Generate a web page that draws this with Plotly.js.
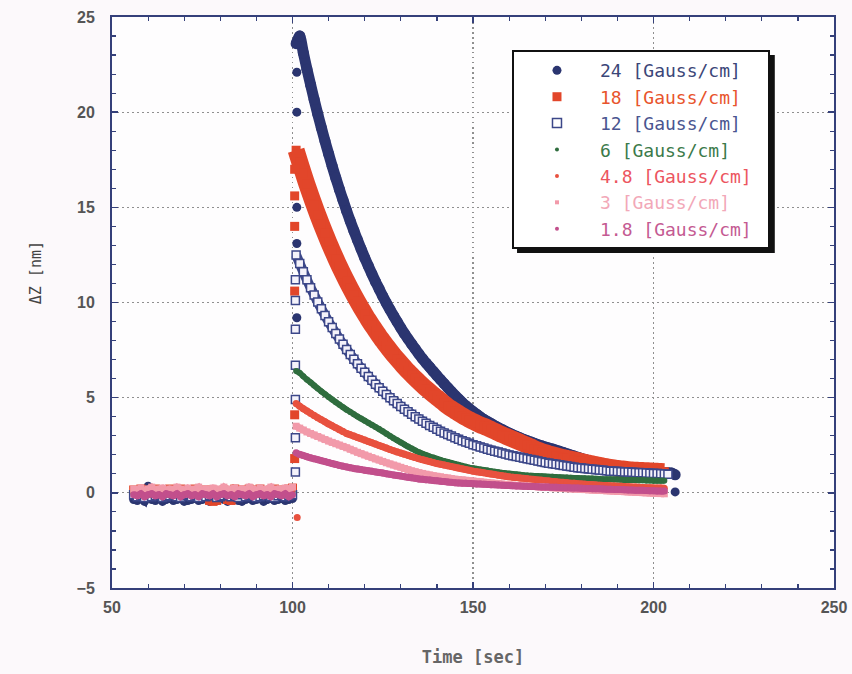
<!DOCTYPE html>
<html>
<head>
<meta charset="utf-8">
<script src="https://cdn.plot.ly/plotly-3.0.1.min.js"></script>
<style>html,body{margin:0;padding:0;background:#fcf9fb;}#chart{width:852px;height:674px;}</style>
</head>
<body>
<div id="chart"></div>
<script>
// ---- data (Time [sec] vs ΔZ [nm]) ----
const seriesNames = ["24 [Gauss/cm]", "18 [Gauss/cm]", "12 [Gauss/cm]", "6 [Gauss/cm]", "4.8 [Gauss/cm]", "3 [Gauss/cm]", "1.8 [Gauss/cm]"];
const baseStart = 56;   // first baseline sample time
const decayStart = 101; // first sample after field switched on
const sampleStep = 1;

const g24Base = [-0.35,-0.4,-0.3,-0.45,0.35,-0.35,-0.4,-0.3,-0.45,-0.35,-0.3,-0.4,-0.35,-0.3,-0.45,-0.4,-0.35,-0.3,-0.4,-0.35,-0.3,-0.45,-0.35,-0.4,-0.3,-0.35,-0.45,-0.3,-0.35,-0.4,-0.45,-0.35,-0.3,-0.4,-0.35,-0.3,-0.45,-0.35,-0.3,-0.4,-0.35,-0.3,-0.4,-0.35,-0.3];
const g18Base = [0.15,0.1,0.2,0.05,0.15,0.1,0.2,0.15,0.05,0.1,0.2,0.15,0.1,0.2,0.05,0.15,0.1,0.2,-0.1,0.1,0.15,-0.4,-0.45,-0.4,0.1,0.15,-0.35,-0.4,0.2,0.1,0.15,0.05,0.2,0.1,0.15,0.2,0.1,0.05,0.15,0.2,0.1,0.15,0.05,0.2,0.25];
const g12Base = [-0.1,-0.2,-0.15,-0.25,-0.1,-0.2,-0.15,-0.1,-0.25,-0.2,-0.15,-0.1,-0.2,-0.25,-0.15,-0.1,-0.2,-0.15,-0.25,-0.1,-0.2,-0.15,-0.1,-0.25,-0.2,-0.15,-0.1,-0.2,-0.15,-0.25,-0.1,-0.2,-0.15,-0.1,-0.25,-0.2,-0.15,-0.1,-0.2,-0.25,-0.15,-0.1,-0.2,-0.15,-0.1];
const g6Base = [-0.05,0.0,-0.1,0.05,-0.05,-0.1,0.0,0.05,-0.05,-0.1,0.0,-0.05,0.05,-0.1,0.0,-0.05,-0.1,0.05,0.0,-0.05,-0.1,0.0,0.05,-0.05,-0.1,0.0,-0.05,0.05,-0.1,0.0,-0.05,-0.1,0.05,0.0,-0.05,-0.1,0.0,0.05,-0.05,-0.1,0.0,-0.05,0.05,-0.1,0.0];
const g48Base = [0.1,0.05,0.15,0.0,0.1,0.2,0.05,0.1,0.15,0.0,0.1,0.05,0.2,0.1,0.0,0.15,0.05,0.1,0.2,0.0,0.1,0.05,0.15,0.1,0.0,0.2,0.05,0.1,0.15,0.0,0.1,0.05,0.2,0.1,0.0,0.15,0.05,0.1,0.2,0.0,0.1,0.05,0.15,0.1,0.2];
const g3Base = [0.2,0.15,0.25,0.1,0.2,0.3,0.15,0.2,0.25,0.1,0.2,0.15,0.3,0.2,0.1,0.25,0.15,0.2,0.3,0.1,0.2,0.15,0.25,0.2,0.1,0.3,0.15,0.2,0.25,0.1,0.2,0.15,0.3,0.2,0.1,0.25,0.15,0.2,0.3,0.1,0.2,0.15,0.25,0.2,0.3];
const g18mBase = [-0.1,-0.15,-0.05,-0.2,-0.1,-0.05,-0.15,-0.1,-0.2,-0.05,-0.1,-0.15,-0.05,-0.2,-0.1,-0.05,-0.15,-0.1,-0.2,-0.05,-0.1,-0.15,-0.05,-0.2,-0.1,-0.05,-0.15,-0.1,-0.2,-0.05,-0.1,-0.15,-0.05,-0.2,-0.1,-0.05,-0.15,-0.1,-0.2,-0.05,-0.1,-0.15,-0.05,-0.2,-0.1];

const g24Decay = [23.6,24.0,23.12,22.26,21.45,20.66,19.90,19.18,18.48,17.81,17.16,16.54,15.94,15.37,14.81,14.28,13.77,13.28,12.81,12.35,11.92,11.50,11.09,10.71,10.33,9.97,9.63,9.30,8.98,8.67,8.37,8.09,7.82,7.56,7.30,7.05,6.82,6.6,6.38,6.16,5.95,5.74,5.53,5.32,5.12,4.93,4.75,4.58,4.42,4.27,4.13,3.99,3.86,3.75,3.64,3.53,3.42,3.33,3.23,3.14,3.05,2.97,2.89,2.81,2.74,2.67,2.60,2.53,2.47,2.41,2.35,2.30,2.24,2.18,2.12,2.05,1.99,1.93,1.87,1.81,1.75,1.69,1.63,1.57,1.51,1.46,1.41,1.37,1.33,1.29,1.26,1.23,1.20,1.18,1.16,1.14,1.12,1.11,1.10,1.09,1.08,1.07,1.06,1.05,1.04,0.95];
const g18Decay = [18.0,17.38,16.79,16.21,15.66,15.13,14.61,14.12,13.64,13.18,12.74,12.31,11.9,11.5,11.12,10.75,10.4,10.06,9.73,9.41,9.1,8.81,8.53,8.25,7.99,7.73,7.49,7.25,7.03,6.81,6.6,6.39,6.2,6.01,5.83,5.65,5.48,5.32,5.16,5.01,4.86,4.7,4.55,4.42,4.3,4.18,4.06,3.95,3.85,3.75,3.66,3.57,3.5,3.42,3.33,3.24,3.15,3.06,2.98,2.9,2.82,2.74,2.66,2.58,2.5,2.42,2.32,2.24,2.17,2.11,2.05,2.0,1.95,1.9,1.85,1.81,1.77,1.73,1.69,1.65,1.6,1.56,1.52,1.48,1.44,1.4,1.37,1.34,1.31,1.28,1.26,1.24,1.22,1.2,1.19,1.18,1.17,1.16,1.15,1.14,1.13,1.12,1.11];
const g12Decay = [12.5,12.05,11.61,11.19,10.78,10.40,10.02,9.67,9.32,8.99,8.68,8.37,8.08,7.80,7.53,7.27,7.02,6.78,6.55,6.33,6.11,5.91,5.71,5.52,5.34,5.17,5.00,4.84,4.69,4.54,4.39,4.26,4.13,4.00,3.88,3.76,3.65,3.54,3.44,3.34,3.24,3.15,3.06,2.98,2.90,2.82,2.74,2.67,2.60,2.53,2.47,2.41,2.35,2.29,2.24,2.19,2.14,2.09,2.04,1.99,1.95,1.91,1.87,1.83,1.79,1.75,1.71,1.67,1.63,1.59,1.56,1.53,1.5,1.47,1.44,1.41,1.38,1.35,1.32,1.3,1.28,1.26,1.24,1.22,1.2,1.18,1.16,1.14,1.13,1.12,1.11,1.1,1.09,1.08,1.07,1.06,1.05,1.04,1.03,1.02,1.01,1.0,0.99,0.98];
const g6Decay = [6.4,6.3,6.12,5.95,5.8,5.64,5.48,5.33,5.18,5.04,4.9,4.76,4.63,4.5,4.37,4.25,4.13,4.01,3.9,3.79,3.68,3.57,3.46,3.35,3.23,3.11,2.99,2.87,2.76,2.65,2.54,2.43,2.33,2.23,2.13,2.05,1.98,1.91,1.85,1.79,1.73,1.67,1.62,1.57,1.52,1.47,1.42,1.37,1.32,1.29,1.26,1.23,1.2,1.17,1.14,1.11,1.08,1.05,1.03,1.01,0.99,0.97,0.95,0.93,0.91,0.9,0.89,0.88,0.87,0.86,0.85,0.84,0.83,0.82,0.81,0.8,0.79,0.78,0.78,0.77,0.76,0.75,0.75,0.74,0.73,0.72,0.72,0.71,0.7,0.7,0.69,0.68,0.68,0.67,0.67,0.66,0.66,0.65,0.65,0.64,0.64,0.63,0.63];
const g48Decay = [4.7,4.55,4.42,4.3,4.18,4.06,3.95,3.84,3.73,3.62,3.52,3.42,3.32,3.22,3.12,3.05,2.98,2.91,2.84,2.77,2.7,2.63,2.56,2.49,2.42,2.35,2.28,2.21,2.15,2.09,2.03,1.97,1.91,1.85,1.79,1.74,1.69,1.64,1.59,1.54,1.5,1.46,1.42,1.38,1.34,1.3,1.26,1.22,1.18,1.14,1.11,1.08,1.05,1.02,0.99,0.96,0.93,0.9,0.87,0.84,0.82,0.8,0.78,0.76,0.74,0.72,0.7,0.68,0.66,0.64,0.62,0.6,0.58,0.56,0.55,0.53,0.51,0.5,0.48,0.47,0.45,0.44,0.43,0.41,0.4,0.39,0.38,0.37,0.36,0.35,0.34,0.33,0.32,0.31,0.3,0.29,0.28,0.27,0.27,0.26,0.25,0.25,0.24];
const g3Decay = [3.5,3.4,3.3,3.2,3.12,3.04,2.96,2.88,2.8,2.72,2.65,2.58,2.51,2.44,2.37,2.29,2.21,2.13,2.06,1.99,1.92,1.85,1.78,1.72,1.65,1.58,1.52,1.46,1.4,1.34,1.28,1.22,1.16,1.11,1.06,1.02,0.98,0.94,0.9,0.87,0.84,0.81,0.78,0.75,0.72,0.7,0.68,0.66,0.64,0.62,0.6,0.58,0.56,0.54,0.52,0.5,0.48,0.46,0.44,0.42,0.4,0.39,0.38,0.37,0.35,0.34,0.33,0.32,0.31,0.3,0.28,0.27,0.26,0.25,0.24,0.22,0.21,0.2,0.19,0.18,0.17,0.16,0.15,0.14,0.13,0.12,0.11,0.1,0.09,0.08,0.07,0.06,0.05,0.04,0.03,0.02,0.01,0.0,-0.01,-0.02,-0.03,-0.04,-0.05];
const g18mDecay = [2.1,2.02,1.96,1.9,1.84,1.79,1.74,1.69,1.64,1.59,1.54,1.49,1.44,1.4,1.36,1.32,1.28,1.25,1.22,1.19,1.16,1.13,1.1,1.07,1.04,1.0,0.97,0.94,0.91,0.88,0.85,0.82,0.79,0.76,0.73,0.71,0.69,0.67,0.65,0.63,0.61,0.59,0.57,0.55,0.53,0.52,0.51,0.5,0.49,0.48,0.47,0.46,0.45,0.44,0.43,0.42,0.41,0.4,0.39,0.38,0.37,0.36,0.36,0.35,0.34,0.33,0.33,0.32,0.31,0.31,0.3,0.29,0.29,0.28,0.27,0.27,0.26,0.25,0.25,0.24,0.23,0.23,0.22,0.21,0.21,0.2,0.19,0.19,0.18,0.17,0.17,0.16,0.15,0.15,0.14,0.13,0.13,0.12,0.11,0.11,0.1,0.09,0.09];

// samples taken during the switching instants (field on / field off)
const g24JumpT = [101.2,101.2,101.2,101.2,101.2,101.2,206];
const g24JumpY = [22.1,20.0,17.1,15.0,13.1,9.2,0.05];
const g18JumpT = [100.6,100.6,100.6,100.6,100.6,100.6];
const g18JumpY = [17.0,15.6,14.0,10.6,4.1,1.8];
const g12JumpT = [100.8,100.8,100.8,100.8,100.8,100.8,100.8];
const g12JumpY = [11.2,10.1,8.6,6.7,4.9,2.9,1.1];
const g48JumpT = [101.3];
const g48JumpY = [-1.3];

// ---- styles ----
const styles = [
  {color:'#2b3570', symbol:'circle', size:11, lsize:9, lw:11, text:'#3b4678'},
  {color:'#e2462a', symbol:'square', size:9, lsize:9, lw:17, text:'#e8542c'},
  {color:'#3c4789', symbol:'square', fill:'#f4f2fa', size:8, lsize:9, lw:10, text:'#4a5590', line:1.5},
  {color:'#2f6d3e', symbol:'circle', size:6, lsize:4, lw:6, text:'#3b7a4a'},
  {color:'#e8513f', symbol:'circle', size:7, lsize:4, lw:7, text:'#ec5560'},
  {color:'#f29aaa', symbol:'square', size:7, lsize:4, lw:7, text:'#f2a8b8'},
  {color:'#c24f8c', symbol:'circle', size:7, lsize:4, lw:7, text:'#c45a92'}
];
const bases = [g24Base, g18Base, g12Base, g6Base, g48Base, g3Base, g18mBase];
const decays = [g24Decay, g18Decay, g12Decay, g6Decay, g48Decay, g3Decay, g18mDecay];
const jumps = [[g24JumpT,g24JumpY],[g18JumpT,g18JumpY],[g12JumpT,g12JumpY],null,[g48JumpT,g48JumpY],null,null];

function mk(s, size){
  const m = {color:s.fill || s.color, symbol:s.symbol, size:size};
  if (s.line) m.line = {color:s.color, width:s.line};
  return m;
}
const traces = [];
bases.forEach((b,i)=>{
  traces.push({type:'scatter', mode:'lines+markers', x0:baseStart, dx:sampleStep, y:b,
    line:{color:styles[i].color, width:Math.min(styles[i].lw,7)},
    marker:mk(styles[i], Math.min(styles[i].size,9)), showlegend:false, legendgroup:'g'+i, hoverinfo:'skip'});
});
decays.forEach((d,i)=>{
  traces.push({type:'scatter', mode:'lines+markers', x0:decayStart, dx:sampleStep, y:d,
    line:{color:styles[i].color, width:styles[i].lw, shape:'spline', smoothing:0.6},
    marker:mk(styles[i], styles[i].size), showlegend:false, legendgroup:'g'+i});
  if (jumps[i]) traces.push({type:'scatter', mode:'markers', x:jumps[i][0], y:jumps[i][1],
    marker:mk(styles[i], Math.min(styles[i].size,9)), showlegend:false, legendgroup:'g'+i});
});
seriesNames.forEach((n,i)=>{
  const m = mk(styles[i], styles[i].lsize);
  if (styles[i].fill) m.color = '#ffffff';
  traces.push({type:'scatter', mode:'markers', x:[null], y:[null], legendgroup:'g'+i,
    name:'<span style="color:'+styles[i].text+'">'+n+'&nbsp;</span>', marker:m});
});

const axisColor = '#35407a';
const tickFont = {family:'Liberation Sans, Arial, sans-serif', size:16, color:'#555555', weight:'bold'};
const layout = {
  width:852, height:674,
  margin:{l:112, r:18, t:17, b:86},
  paper_bgcolor:'#fcf9fb', plot_bgcolor:'#fefdfe',
  showlegend:true,
  legend:{x:0.554, y:0.942, xanchor:'left', yanchor:'top', bgcolor:'#ffffff',
    bordercolor:'#111111', borderwidth:2, itemwidth:76, tracegroupgap:0,
    font:{family:'DejaVu Sans Mono, monospace', size:18, color:'#444'}},
  xaxis:{range:[50,250], tick0:50, dtick:50, ticks:'inside', ticklen:6, tickwidth:1.5, tickcolor:axisColor,
    showline:true, linecolor:axisColor, linewidth:2, mirror:'ticks', zeroline:false,
    showgrid:true, gridcolor:'#8f8f8f', griddash:'1.5px,3.5px', gridwidth:1.3,
    tickfont:tickFont, ticklabelstandoff:4,
    minor:{dtick:10, ticks:'inside', ticklen:4, tickcolor:axisColor, tickwidth:1.2, showgrid:false},
    title:{text:'Time [sec]', standoff:36, font:{family:'DejaVu Sans Mono, monospace', size:17, color:'#666', weight:'bold'}}},
  yaxis:{range:[-5,25], tick0:-5, dtick:5, ticks:'inside', ticklen:6, tickwidth:1.5, tickcolor:axisColor,
    showline:true, linecolor:axisColor, linewidth:2, mirror:'ticks', zeroline:false,
    showgrid:true, gridcolor:'#8f8f8f', griddash:'1.5px,3.5px', gridwidth:1.3,
    tickfont:tickFont, ticklabelstandoff:12,
    minor:{dtick:1, ticks:'inside', ticklen:4, tickcolor:axisColor, tickwidth:1.2, showgrid:false}},
  annotations:[{text:'ΔZ [nm]', xref:'paper', yref:'paper', x:-0.1205, y:0.553, showarrow:false,
    textangle:-90, font:{family:'DejaVu Sans Mono, monospace', size:15, color:'#444'}}],
  shapes:[{type:'rect', xref:'paper', yref:'paper', x0:0.561, x1:0.918, y0:0.5867, y1:0.9335,
    fillcolor:'#111111', line:{width:0}, layer:'above'}]
};
Plotly.newPlot('chart', traces, layout, {staticPlot:true});
</script>
</body>
</html>
